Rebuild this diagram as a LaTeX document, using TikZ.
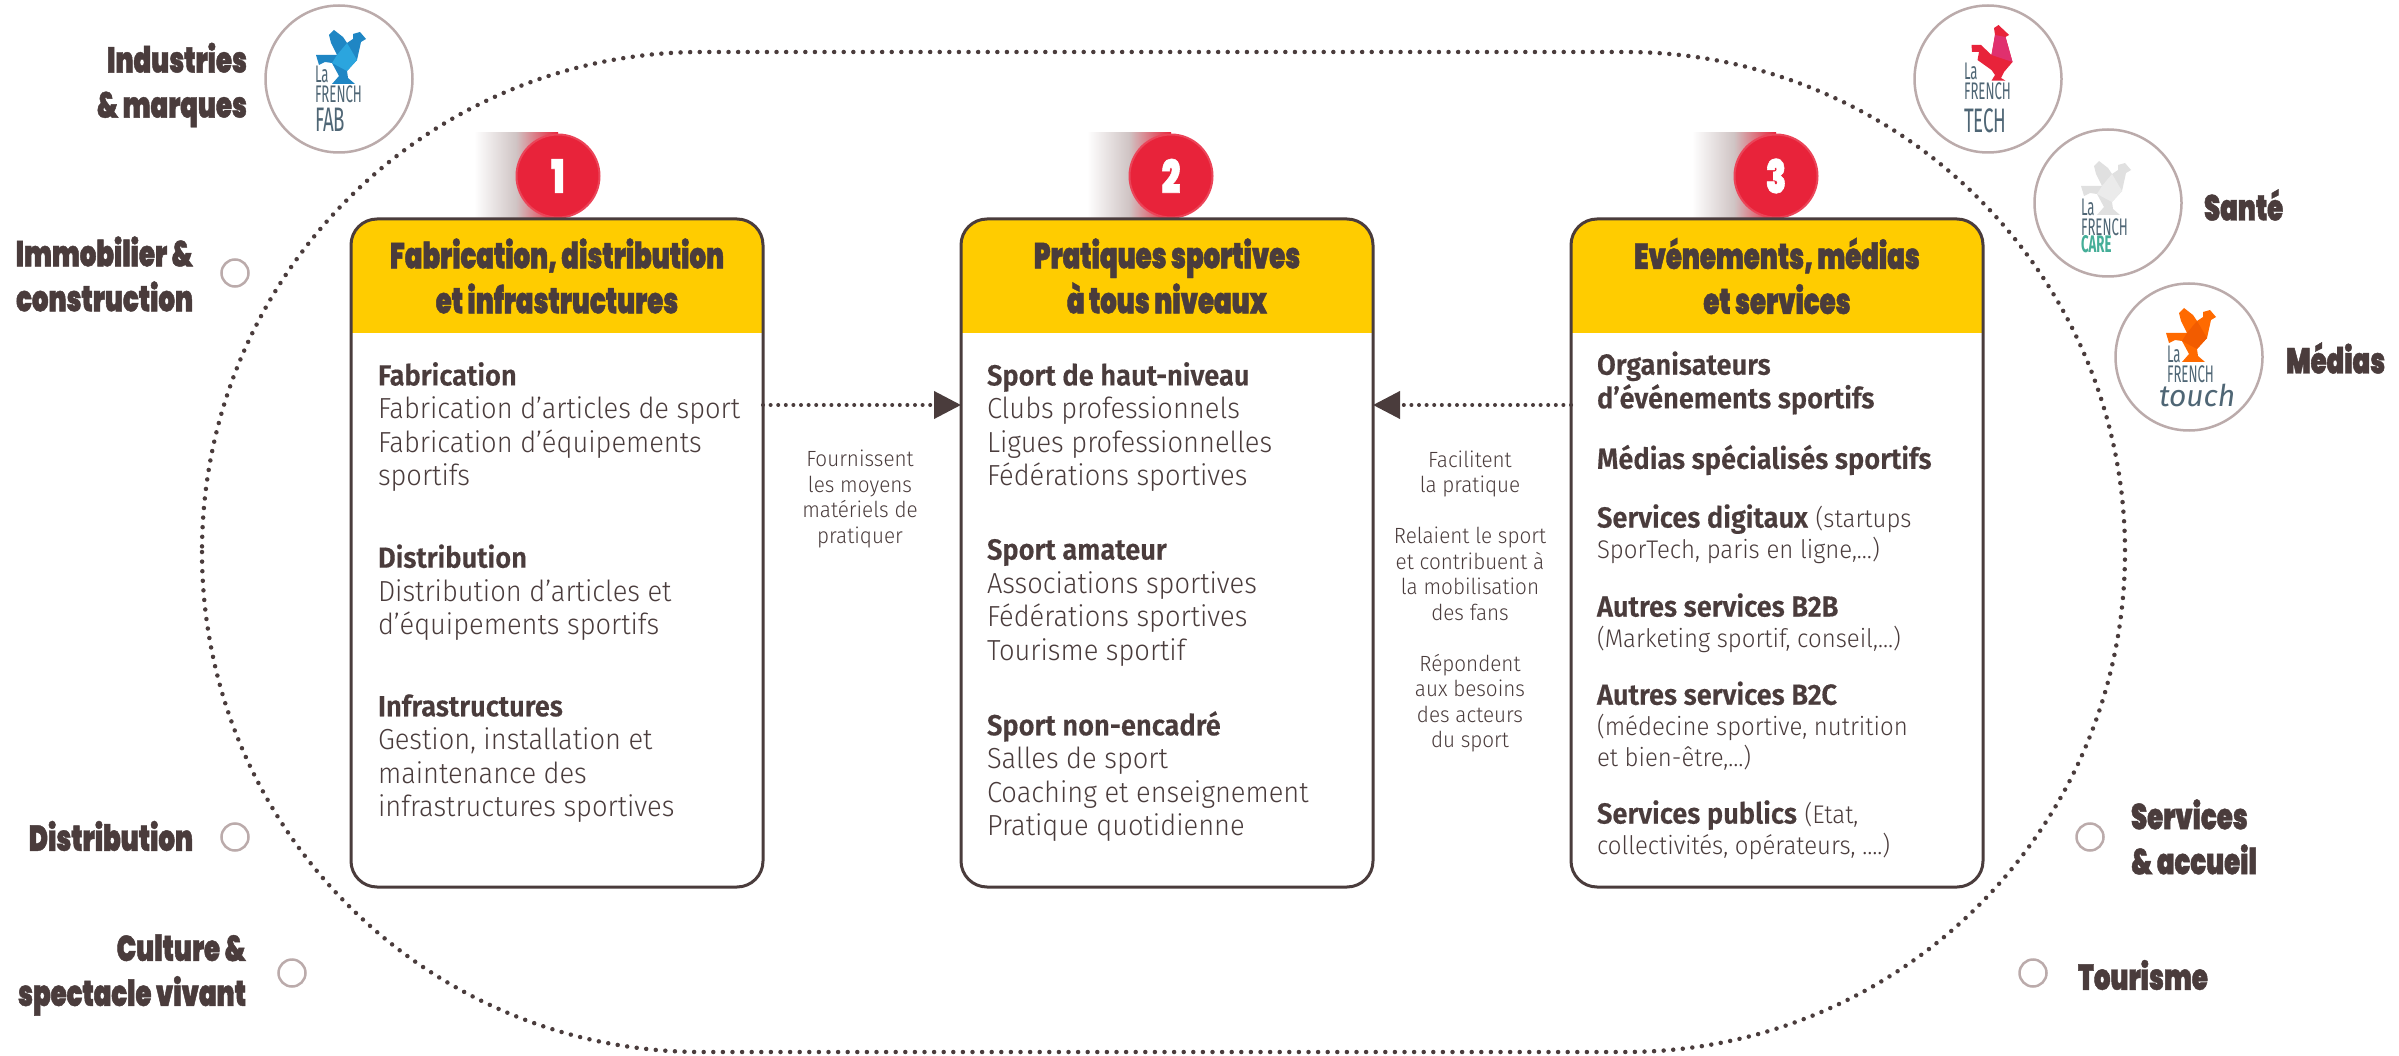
\documentclass[tikz,border=0pt]{standalone}
\usepackage{fontspec}
\usetikzlibrary{arrows.meta}
\setmainfont{Fira Sans}
\newfontfamily\bodyf[FakeStretch=.94,BoldFont={Fira Sans SemiBold},BoldFeatures={FakeBold=.5}]{Fira Sans Light}
\newfontfamily\heavy[FakeStretch=.72,FakeBold=1.2]{Poppins Black}
\newfontfamily\logof[FakeStretch=.55]{Fira Sans}
\newcommand{\minor}{\fontsize{25.5}{31}\selectfont}
\newcommand{\logobigfont}{\fontsize{34}{20}\selectfont}
\definecolor{ink}{HTML}{4A3C3C}
\definecolor{hdr}{HTML}{FFCC00}
\definecolor{badge}{HTML}{E8233A}
\definecolor{ring}{HTML}{BBABAB}
\definecolor{slate}{HTML}{4F6675}
\definecolor{fabdark}{HTML}{1F86C4}
\definecolor{fablight}{HTML}{2BA5DE}
\definecolor{touchdark}{HTML}{FF6A00}
\definecolor{touchlight}{HTML}{F25C00}
\definecolor{caregreen}{HTML}{45AE98}
\definecolor{techpink}{HTML}{E0306E}
\newcommand{\wingrooster}[2]{%
  \fill[#1] (-5,-49) -- (4,-42) -- (8,-36) -- (14,-40) -- (14,-45) -- (21,-47) -- (27,-40) -- (22,-37) -- (18,-19) -- (8,-8) -- (9,-1) -- (16,5) -- (-7,5) -- (0,-3) -- (-7,-16) -- (-14,-17) -- (-20,-14) -- (-23,-24) -- (-2,-24) -- (-8,-36) -- (-10,-44) -- cycle;
  \fill[#2] (-2,-24) -- (8,-36) -- (18,-19) -- (8,-8) -- (-7,-16) -- cycle;}
\tikzset{
  every node/.style={inner sep=0pt,outer sep=0pt,text=ink},
  cardbox/.style={minimum width=412pt,minimum height=668pt,fill=white},
  cardline/.style={draw=ink,line width=3pt,rounded corners=26pt},
  cardhead/.style={fill=hdr},
  cardtitle/.style={font=\heavy\fontsize{36}{45}\selectfont,align=center},
  cardtext/.style={font=\bodyf\fontsize{29}{33.5}\selectfont,align=left,anchor=west},
  cardtextb/.style={font=\bodyf\fontsize{29}{31}\selectfont,align=left,anchor=west},
  sidetext/.style={font=\bodyf\fontsize{22}{25.5}\selectfont,align=center},
  sector/.style={font=\heavy\fontsize{36}{45}\selectfont},
  roundmark/.style={circle,draw=ring,line width=2.5pt,fill=white},
  logomark/.style={roundmark,minimum size=147pt},
  dotmark/.style={roundmark,minimum size=27pt},
  numbadge/.style={circle,fill=badge,draw=badge!85!white,line width=2pt,minimum size=83pt,text=white,font=\heavy\fontsize{46}{46}\selectfont},
  fade/.style={left color=white,right color=badge,middle color=ring!70!white},
  dotline/.style={draw=ink,line width=4.5pt,line cap=round,dash pattern=on 0pt off 9.6pt},
  dotarrow/.style={draw=ink,line width=4pt,line cap=round,dash pattern=on 0pt off 7.6pt,-{Triangle[length=27pt,width=27pt]}},
  logotxt/.style={font=\logof\fontsize{24}{20}\selectfont,text=slate,anchor=west,align=left},
}
\begin{document}
\begin{tikzpicture}[x=1pt,y=-1pt]
\useasboundingbox (0,0) rectangle (2399,1056);
% outer dotted stadium
\draw[dotline,rounded corners=500pt] (202,52) rectangle (2125,1052);

% cards
\foreach \cx/\bx/\nm/\num in {557/558/a/1,1167/1171/b/2,1777/1776/c/3}{
  \shade[fade] (\bx-84,133) rectangle (\bx,219);
  \node[numbadge] (badge\nm) at (\bx,176) {\num};
  \node[cardbox] (card\nm) at (\cx,553) {};
  \begin{scope}
    \clip[rounded corners=26pt] (card\nm.north west) rectangle (card\nm.south east);
    \fill[cardhead] (card\nm.north west) rectangle (card\nm.east |- 0,333);
  \end{scope}
  \draw[cardline] (card\nm.north west) rectangle (card\nm.south east);
}
\node[cardtitle] (titlea) at (557,276) {Fabrication, distribution\\et infrastructures};
\node[cardtitle] (titleb) at (1167,276) {Pratiques sportives\\à tous niveaux};
\node[cardtitle] (titlec) at (1777,276) {Evénements, médias\\et services};

% card 1
\node[cardtext] (a1) at (378,427) {\textbf{Fabrication}\\Fabrication d’articles de sport\\Fabrication d’équipements\\sportifs};
\node[cardtext] (a2) at (378,592.5) {\textbf{Distribution}\\Distribution d’articles et\\d’équipements sportifs};
\node[cardtext] (a3) at (378,758.5) {\textbf{Infrastructures}\\Gestion, installation et\\maintenance des\\infrastructures sportives};
% card 2
\node[cardtext] (b1) at (987,427) {\textbf{Sport de haut-niveau}\\Clubs professionnels\\Ligues professionnelles\\Fédérations sportives};
\node[cardtext] (b2) at (987,602.5) {\textbf{Sport amateur}\\Associations sportives\\Fédérations sportives\\Tourisme sportif};
\node[cardtext] (b3) at (987,776.5) {\textbf{Sport non-encadré}\\Salles de sport\\Coaching et enseignement\\Pratique quotidienne};
% card 3
\node[cardtext] (c1) at (1597,383) {\textbf{Organisateurs}\\\textbf{d’événements sportifs}};
\node[cardtextb] (c2) at (1597,460) {\textbf{Médias spécialisés sportifs}};
\node[cardtextb] (c3) at (1597,534) {\textbf{Services digitaux} {\minor (startups}\\{\minor SporTech, paris en ligne,…)}};
\node[cardtextb] (c4) at (1597,623) {\textbf{Autres services B2B}\\{\minor (Marketing sportif, conseil,…)}};
\node[cardtextb] (c5) at (1597,726) {\textbf{Autres services B2C}\\{\minor (médecine sportive, nutrition}\\{\minor et bien-être,…)}};
\node[cardtextb] (c6) at (1597,830) {\textbf{Services publics} {\minor (Etat,}\\{\minor collectivités, opérateurs, ….)}};

% connectors
\coordinate (lvl) at (0,405);
\draw[dotarrow] (carda.east |- lvl) -- (cardb.west |- lvl);
\draw[dotarrow] (cardc.west |- lvl) -- (cardb.east |- lvl);
\node[sidetext] (s1) at (860,499) {Fournissent\\les moyens\\matériels de\\pratiquer};
\node[sidetext] (s2) at (1470,601.5) {Facilitent\\la pratique\\[25.5pt]Relaient le sport\\et contribuent à\\la mobilisation\\des fans\\[25.5pt]Répondent\\aux besoins\\des acteurs\\du sport};

% sector labels
\node[sector,align=right,anchor=east] (l1) at (247,85) {Industries\\\& marques};
\node[sector,align=right,anchor=east] (l2) at (193,274) {Immobilier \&\\construction};
\node[sector,anchor=east] (l3) at (193,836) {Distribution};
\node[sector,align=right,anchor=east] (l4) at (246,975) {Culture \&\\spectacle vivant};
\node[sector,anchor=west] (l5) at (2204,205) {Santé};
\node[sector,anchor=west] (l6) at (2286,358) {Médias};
\node[sector,align=left,anchor=west] (l7) at (2131,837) {Services\\\& accueil};
\node[sector,anchor=west] (l8) at (2078,975) {Tourisme};

% small marks
\node[dotmark] (m1) at (235,273) {};
\node[dotmark] (m2) at (235,837) {};
\node[dotmark] (m3) at (292,973) {};
\node[dotmark] (m4) at (2090,837) {};
\node[dotmark] (m5) at (2033,973) {};

% logos
\node[logomark] (fab) at (339,79) {};
\node[logomark] (tech) at (1988,79) {};
\node[logomark] (care) at (2108,203) {};
\node[logomark] (touch) at (2189,357) {};

\begin{scope}[shift={(fab.center)}]
  \wingrooster{fabdark}{fablight}
\end{scope}
\node[logotxt] (fabt) at ([xshift=-24pt,yshift=-19.5pt]fab.center) {La\\FRENCH\\[4pt]{\logobigfont FAB}};

\begin{scope}[shift={(tech.center)}]
  \fill[badge] (10.5,-54) -- (19,-46) -- (21,-44) -- (17.5,-42) -- (24.5,-17) -- (16,-7) -- (13,-1) -- (17.5,1.7) -- (3.5,1.7) -- (7,-4) -- (3.5,-9) -- (-10.5,-19) -- (-9,-27) -- (-16,-27) -- (-16.5,-34) -- (-7,-34) -- (3.5,-24) -- (7,-44) -- (6,-51) -- cycle;
  \fill[techpink] (7,-44) -- (17.5,-42) -- (24.5,-17) -- (3.5,-24) -- cycle;
\end{scope}
\node[logotxt] (techt) at ([xshift=-24pt,yshift=-19pt]tech.center) {La\\FRENCH\\[7pt]{\logobigfont TECH}};

\begin{scope}[shift={([xshift=-4pt,yshift=-7pt]care.center)}]
  \wingrooster{black!12}{black!8}
\end{scope}
\node[logotxt] (caret) at ([xshift=-27pt,yshift=-23pt]care.center) {La\\FRENCH\\[-3pt]{\color{caregreen}\bfseries CARE}};

\begin{scope}[shift={(touch.center)}]
  \wingrooster{touchdark}{touchlight}
\end{scope}
\node[logotxt] (toucht) at ([xshift=-22pt,yshift=-7pt]touch.center) {La\\FRENCH};
\node[logotxt,font=\itshape\fontsize{30}{30}\selectfont] (touchs) at ([xshift=-30pt,yshift=-38pt]touch.center) {touch};
\end{tikzpicture}
\end{document}
